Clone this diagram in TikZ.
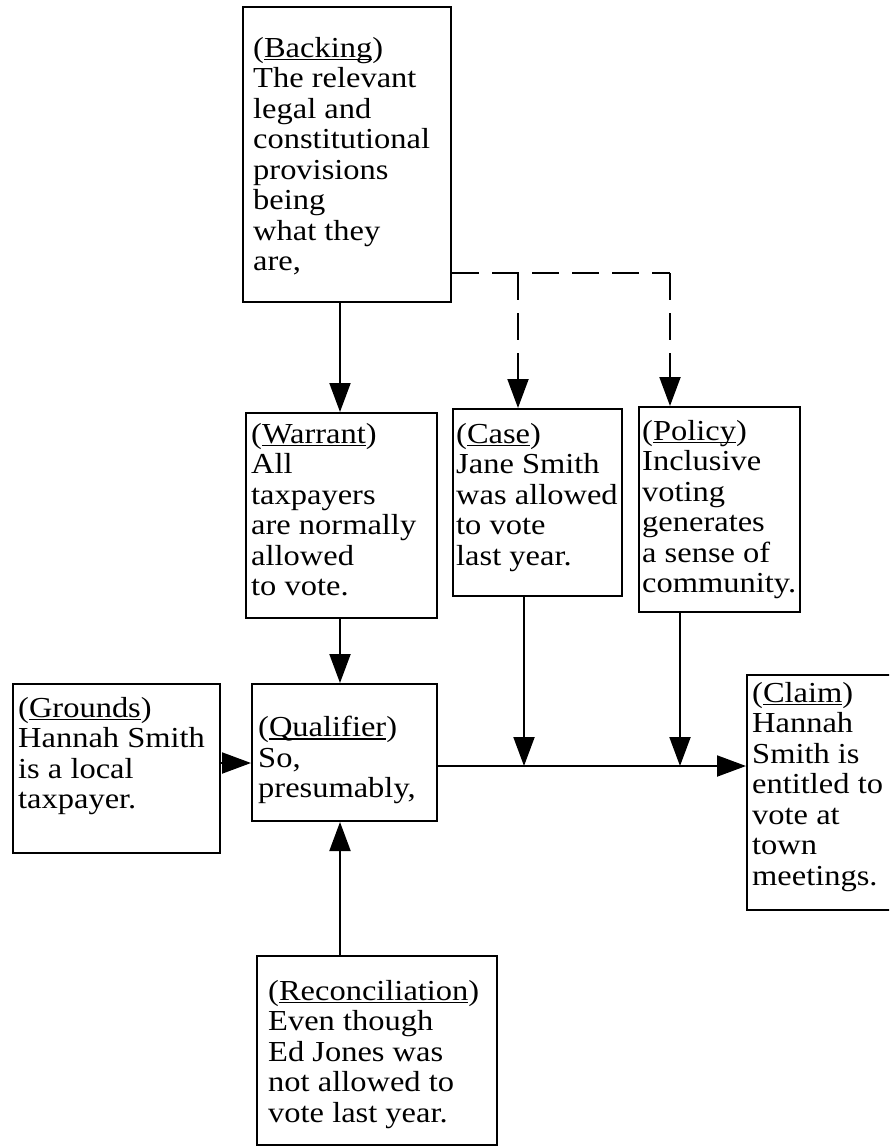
\documentclass[tikz,border=0pt]{standalone}
\usepackage{fontspec}
\setmainfont[FakeStretch=1.12]{Liberation Serif}
\usetikzlibrary{arrows.meta,fit}
\newcommand\lbl[1]{(\sbox0{#1}\rlap{\rule[-3pt]{\wd0}{1.3pt}}\usebox0)}
\begin{document}
\begin{tikzpicture}[x=1pt,y=-1pt,
  box/.style={draw,line width=2pt,inner sep=0pt},
  txt/.style={anchor=north west,inner sep=0pt,align=left,font=\fontsize{29}{30.5}\selectfont},
  arr/.style={line width=2pt,-{Triangle[length=29pt,width=21pt]}},
  dsh/.style={line width=2pt,dash pattern=on 27pt off 13pt}]
\useasboundingbox (0,0) rectangle (889,1148);
\fill[white] (0,0) rectangle (889,1148);
\clip (0,0) rectangle (889,1148);
% boxes
\node[box,fit={(243,7) (451,302)}] (backing) {};
\node[box,fit={(246,413) (437,618)}] (warrant) {};
\node[box,fit={(453,409) (622,596)}] (case) {};
\node[box,fit={(639,407) (800,612)}] (policy) {};
\node[box,fit={(13,684) (220,853)}] (grounds) {};
\node[box,fit={(252,684) (437,821)}] (qualifier) {};
\node[box,fit={(747,675) (905,910)}] (claim) {};
\node[box,fit={(257,956) (497,1145)}] (recon) {};
% texts
\node[txt] (backingT) at (253,37) {\lbl{Backing}\\The relevant\\legal and\\constitutional\\provisions\\being\\what they\\are,};
\node[txt] (warrantT) at (251,423) {\lbl{Warrant}\\All\\taxpayers\\are normally\\allowed\\to vote.};
\node[txt] (caseT) at (456,423) {\lbl{Case}\\Jane Smith\\was allowed\\to vote\\last year.};
\node[txt] (policyT) at (642,420) {\lbl{Policy}\\Inclusive\\voting\\generates\\a sense of\\community.};
\node[txt] (groundsT) at (18,697) {\lbl{Grounds}\\Hannah Smith\\is a local\\taxpayer.};
\node[txt] (qualifierT) at (258,716) {\lbl{Qualifier}\\So,\\presumably,};
\node[txt] (claimT) at (752,682) {\lbl{Claim}\\Hannah\\Smith is\\entitled to\\vote at\\town\\meetings.};
\node[txt] (reconT) at (268,980) {\lbl{Reconciliation}\\Even though\\Ed Jones was\\not allowed to\\vote last year.};
% helper coordinates
\coordinate (xw) at (340,0);
\coordinate (yg) at (0,763);
\coordinate (ym) at (0,766);
\coordinate (m1) at (524,766);
\coordinate (m2) at (680,766);
\coordinate (yd) at (0,273);
\coordinate (d1) at (518,273);
\coordinate (d2) at (670,273);
% connectors
\draw[arr] (backing.south -| xw) -- (warrant.north -| xw);
\draw[arr] (warrant.south -| xw) -- (qualifier.north -| xw);
\draw[arr] (recon.north -| xw) -- (qualifier.south -| xw);
\draw[arr] (grounds.east |- yg) -- (qualifier.west |- yg);
\draw[arr] (qualifier.east |- ym) -- (claim.west |- ym);
\draw[arr] (case.south -| m1) -- (m1);
\draw[arr] (policy.south -| m2) -- (m2);
\draw[dsh] (backing.east |- yd) -- (d2);
\draw[dsh,arr] (d1) -- (case.north -| d1);
\draw[dsh,arr] (d2) -- (policy.north -| d2);
\end{tikzpicture}
\end{document}
